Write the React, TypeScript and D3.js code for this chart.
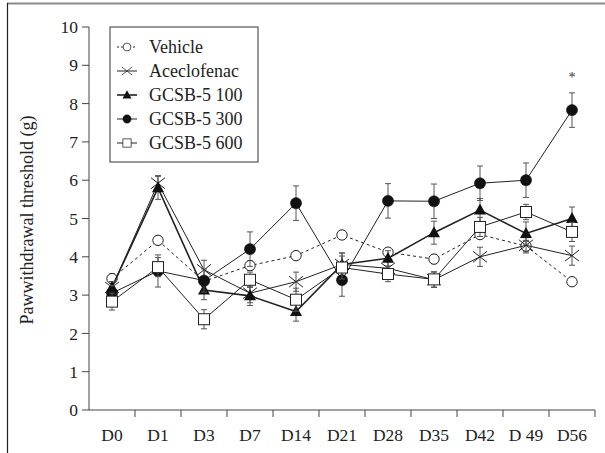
import React from "react";
import * as d3 from "d3";

const days = ["D0", "D1", "D3", "D7", "D14", "D21", "D28", "D35", "D42", "D 49", "D56"];
const yTicks = [0, 1, 2, 3, 4, 5, 6, 7, 8, 9, 10];

const vehicle = [3.43, 4.43, 3.36, 3.77, 4.03, 4.57, 4.12, 3.94, 4.58, 4.28, 3.35];
const vehicleErr = [0.12, 0.1, 0.1, 0.12, 0.1, 0.1, 0.1, 0.12, 0.1, 0.15, 0.1];
const acecl = [3.2, 5.92, 3.66, 3.05, 3.35, 3.8, 3.7, 3.4, 4.0, 4.3, 4.03];
const aceclErr = [0.15, 0.2, 0.25, 0.25, 0.25, 0.3, 0.2, 0.2, 0.25, 0.2, 0.25];
const g100 = [3.2, 5.8, 3.13, 2.98, 2.57, 3.8, 3.96, 4.63, 5.22, 4.61, 5.0];
const g100Err = [0.15, 0.3, 0.25, 0.25, 0.25, 0.3, 0.2, 0.3, 0.3, 0.3, 0.3];
const g300 = [3.05, 3.63, 3.38, 4.2, 5.4, 3.39, 5.46, 5.45, 5.92, 6.0, 7.83];
const g300Err = [0.2, 0.42, 0.3, 0.45, 0.45, 0.42, 0.45, 0.45, 0.45, 0.45, 0.45];
const g600 = [2.83, 3.73, 2.37, 3.4, 2.88, 3.72, 3.55, 3.41, 4.78, 5.17, 4.65];
const g600Err = [0.22, 0.25, 0.25, 0.2, 0.3, 0.3, 0.2, 0.2, 0.25, 0.2, 0.25];

const seriesNames = ["Vehicle", "Aceclofenac", "GCSB-5 100", "GCSB-5 300", "GCSB-5 600"];

type Marker = "circleOpen" | "x" | "triangle" | "circle" | "square";

const series: { name: string; values: number[]; err: number[]; marker: Marker; dash?: string; width: number }[] = [
  { name: seriesNames[0], values: vehicle, err: vehicleErr, marker: "circleOpen", dash: "3,3", width: 1 },
  { name: seriesNames[1], values: acecl, err: aceclErr, marker: "x", width: 1 },
  { name: seriesNames[2], values: g100, err: g100Err, marker: "triangle", width: 1.6 },
  { name: seriesNames[3], values: g300, err: g300Err, marker: "circle", width: 1 },
  { name: seriesNames[4], values: g600, err: g600Err, marker: "square", width: 1 },
];

const W = 605;
const H = 453;
const left = 89;
const right = 595;
const top = 27;
const bottom = 410;
const font = "'Liberation Serif', 'Times New Roman', serif";
const lineColor = "#222";
const textColor = "#222";

function MarkerShape({ type, x, y }: { type: Marker; x: number; y: number }) {
  switch (type) {
    case "circleOpen":
      return <circle cx={x} cy={y} r={5.2} fill="#fff" stroke={lineColor} strokeWidth={1} />;
    case "circle":
      return <circle cx={x} cy={y} r={5.6} fill="#111" stroke="#111" strokeWidth={0.5} />;
    case "square":
      return <rect x={x - 5.5} y={y - 5.5} width={11} height={11} fill="#fff" stroke={lineColor} strokeWidth={1} />;
    case "triangle":
      return <path d={`M${x},${y - 6.5}L${x + 6},${y + 4.5}L${x - 6},${y + 4.5}Z`} fill="#111" />;
    case "x":
      return (
        <path
          d={`M${x - 7},${y - 5.5}L${x + 7},${y + 5.5}M${x - 7},${y + 5.5}L${x + 7},${y - 5.5}`}
          stroke={lineColor}
          strokeWidth={1}
          fill="none"
        />
      );
  }
}

export default function App() {
  const x = d3.scaleBand<string>().domain(days).range([left, right]);
  const y = d3.scaleLinear().domain([0, 10]).range([bottom, top]);
  const cx = (d: string) => (x(d) ?? 0) + x.bandwidth() / 2;
  const line = d3
    .line<number>()
    .x((_, i) => cx(days[i]))
    .y((v) => y(v));

  const legendX = 110;
  const legendY = 27;
  const legendRowY = [47, 71, 95, 119, 143];

  return (
    <svg width={W} height={H} style={{ position: "absolute", left: 0, top: 0, background: "#fff" }}>
      {/* frame */}
      <line x1={7} x2={605} y1={3.5} y2={3.5} stroke="#8a8a8a" strokeWidth={2} />
      <line x1={7.5} x2={7.5} y1={3} y2={453} stroke="#222" strokeWidth={1.2} />

      {/* y axis */}
      <line x1={left} x2={left} y1={top} y2={bottom} stroke="#444" strokeWidth={1} />
      {yTicks.map((t) => (
        <g key={t}>
          <line x1={left - 7} x2={left} y1={y(t)} y2={y(t)} stroke="#444" />
          <text x={left - 11} y={y(t)} dy="0.35em" textAnchor="end" fontFamily={font} fontSize={17.5} fill={textColor}>
            {t}
          </text>
        </g>
      ))}
      <text
        transform={`translate(33,${220}) rotate(-90)`}
        textAnchor="middle"
        fontFamily={font}
        fontSize={18}
        fill={textColor}
      >
        Pawwithdrawal threshold (g)
      </text>

      {/* x axis */}
      <line x1={left} x2={right} y1={bottom} y2={bottom} stroke="#444" strokeWidth={1} />
      {days.map((d) => (
        <g key={d}>
          <line x1={(x(d) ?? 0) + x.bandwidth()} x2={(x(d) ?? 0) + x.bandwidth()} y1={bottom} y2={bottom + 7} stroke="#444" />
          <text x={cx(d)} y={441} textAnchor="middle" fontFamily={font} fontSize={17.5} fill={textColor}>
            {d}
          </text>
        </g>
      ))}

      {/* series */}
      {series.map((s) => (
        <g key={s.name}>
          <path d={line(s.values) ?? ""} fill="none" stroke={lineColor} strokeWidth={s.width} strokeDasharray={s.dash} />
          {s.values.map((v, i) => {
            const px = cx(days[i]);
            const y1 = y(v + s.err[i]);
            const y2 = y(v - s.err[i]);
            return (
              <g key={i} stroke="#555" strokeWidth={1}>
                <line x1={px} x2={px} y1={y1} y2={y2} />
                <line x1={px - 3} x2={px + 3} y1={y1} y2={y1} />
                <line x1={px - 3} x2={px + 3} y1={y2} y2={y2} />
              </g>
            );
          })}
          {s.values.map((v, i) => (
            <MarkerShape key={i} type={s.marker} x={cx(days[i])} y={y(v)} />
          ))}
        </g>
      ))}

      {/* significance */}
      <text x={cx(days[10])} y={82} textAnchor="middle" fontFamily={font} fontSize={14} fill="#333">
        *
      </text>

      {/* legend */}
      <rect x={legendX} y={legendY} width={148} height={135} fill="#fff" stroke="#333" strokeWidth={1} />
      {series.map((s, i) => {
        const ly = legendRowY[i];
        return (
          <g key={s.name}>
            <line x1={117} x2={137} y1={ly} y2={ly} stroke={lineColor} strokeWidth={s.width} strokeDasharray={s.dash ? "2,2" : undefined} />
            <g transform={`translate(127,${ly}) scale(0.75) translate(-127,${-ly})`}>
              <MarkerShape type={s.marker} x={127} y={ly} />
            </g>
            <text x={149} y={ly} dy="0.35em" fontFamily={font} fontSize={18} fill={textColor}>
              {s.name}
            </text>
          </g>
        );
      })}
    </svg>
  );
}
